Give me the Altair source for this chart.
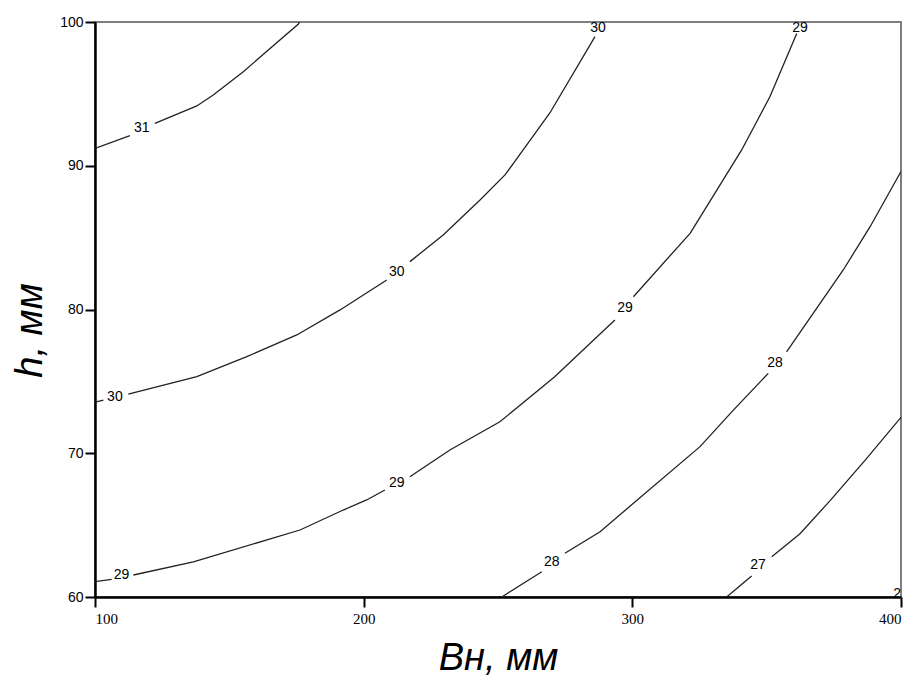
import altair as alt
import pandas as pd

# ---- contour line segments (gaps are where the labels sit) ----
c31_a_x = [100.0, 113.0]
c31_a_y = [91.2, 92.1]
c31_b_x = [122.3, 137.9, 144.0, 155.2, 175.7, 176.1]
c31_b_y = [92.95, 94.16, 94.92, 96.54, 99.86, 100.0]

c30_a_x = [100.0, 103.1]
c30_a_y = [73.55, 73.7]
c30_b_x = [112.4, 137.9, 156.5, 175.1, 191.2, 208.6]
c30_b_y = [74.12, 75.33, 76.72, 78.23, 79.97, 82.05]
c30_c_x = [217.2, 229.6, 243.3, 252.6, 269.3, 286.1]
c30_c_y = [83.33, 85.18, 87.62, 89.36, 93.67, 98.98]

c29_a_x = [100.0, 106.2]
c29_a_y = [61.07, 61.23]
c29_b_x = [114.3, 136.6, 176.3, 192.4, 201.1, 207.9]
c29_b_y = [61.53, 62.45, 64.66, 66.05, 66.75, 67.44]
c29_c_x = [217.2, 232.1, 250.7, 271.0, 293.5]
c29_c_y = [68.37, 70.23, 72.19, 75.3, 79.27]
c29_d_x = [300.4, 321.5, 340.7, 351.2, 361.2]
c29_d_y = [80.89, 85.30, 91.10, 94.8, 99.2]

c28_a_x = [251.4, 266.3]
c28_a_y = [60.0, 61.76]
c28_b_x = [274.9, 288.0, 300.4, 325.2, 337.6, 350.6]
c28_b_y = [63.04, 64.54, 66.52, 70.46, 73.0, 75.56]
c28_c_x = [357.4, 378.5, 388.5, 400.0]
c28_c_y = [77.06, 82.75, 85.76, 89.6]

c27_a_x = [335.1, 344.4]
c27_a_y = [60.0, 61.46]
c27_b_x = [351.9, 362.4, 373.6, 386.6, 400.0]
c27_b_y = [62.8, 64.4, 66.7, 69.5, 72.5]

# ---- contour labels ----
label_text = ["31", "30", "30", "30", "29", "29", "29", "29", "28", "28", "27", "26"]
label_x = [117.4, 107.4, 212.3, 287.2, 109.9, 212.3, 297.3, 362.4, 270.0, 353.1, 346.8, 400.0]
label_y = [92.6, 73.9, 82.6, 99.6, 61.5, 67.9, 80.1, 99.6, 62.45, 76.3, 62.2, 60.2]

x_ticks = [100, 200, 300, 400]
y_ticks = [60, 70, 80, 90, 100]

segments = {
    "31a": (c31_a_x, c31_a_y), "31b": (c31_b_x, c31_b_y),
    "30a": (c30_a_x, c30_a_y), "30b": (c30_b_x, c30_b_y), "30c": (c30_c_x, c30_c_y),
    "29a": (c29_a_x, c29_a_y), "29b": (c29_b_x, c29_b_y), "29c": (c29_c_x, c29_c_y),
    "29d": (c29_d_x, c29_d_y),
    "28a": (c28_a_x, c28_a_y), "28b": (c28_b_x, c28_b_y), "28c": (c28_c_x, c28_c_y),
    "27a": (c27_a_x, c27_a_y), "27b": (c27_b_x, c27_b_y),
}
rows = []
for seg, (xs, ys) in segments.items():
    for i, (xv, yv) in enumerate(zip(xs, ys)):
        rows.append({"seg": seg, "i": i, "x": xv, "y": yv})
lines_df = pd.DataFrame(rows)
labels_df = pd.DataFrame({"t": label_text, "x": label_x, "y": label_y})

xscale = alt.Scale(domain=[100, 400], nice=False, zero=False)
yscale = alt.Scale(domain=[60, 100], nice=False, zero=False)

xaxis = alt.Axis(
    title="Вн, мм", values=x_ticks, grid=False, format="d",
    tickSize=10, tickWidth=2, tickColor="black", domainColor="black", domainWidth=2.5,
    labelFont="Liberation Serif", labelFontSize=15, labelColor="black", labelPadding=4,
    titleFont="Liberation Sans", titleFontSize=38, titleFontStyle="italic",
    titleFontWeight="normal", titleColor="black", titleY=61, titleBaseline="middle",
)
yaxis = alt.Axis(
    title="h, мм", values=y_ticks, grid=False, format="d",
    tickSize=10, tickWidth=2, tickColor="black", domainColor="black", domainWidth=2.5,
    labelFont="Liberation Sans", labelFontSize=14, labelColor="black", labelPadding=2,
    titleFont="Liberation Sans", titleFontSize=38, titleFontStyle="italic",
    titleFontWeight="normal", titleColor="black", titleX=-65, titleY=308,
    titleBaseline="middle", titleAngle=270,
)

lines = alt.Chart(lines_df).mark_line(color="#222222", strokeWidth=1.3, clip=True).encode(
    x=alt.X("x:Q", scale=xscale, axis=xaxis),
    y=alt.Y("y:Q", scale=yscale, axis=yaxis),
    detail="seg:N",
    order="i:Q",
)

labels = alt.Chart(labels_df).mark_text(
    font="Liberation Sans", fontSize=14, color="black", align="center",
    baseline="middle", clip=True,
).encode(
    x=alt.X("x:Q", scale=xscale),
    y=alt.Y("y:Q", scale=yscale),
    text="t:N",
)

chart = (
    alt.layer(lines, labels)
    .properties(
        width=806, height=575,
        autosize=alt.AutoSizeParams(type="none"),
        padding={"left": 87, "top": 14, "right": 7, "bottom": 86},
        background="white",
    )
    .configure_view(stroke="#555555", strokeWidth=1.5)
)

chart.save("out.html", embed_options={"renderer": "svg", "actions": False})
